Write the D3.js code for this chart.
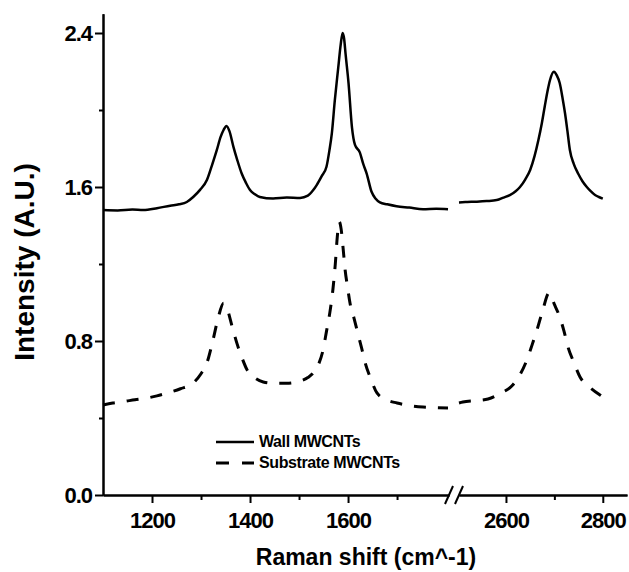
<!DOCTYPE html>
<html>
<head>
<meta charset="utf-8">
<script src="https://cdn.jsdelivr.net/npm/d3@7"></script>
<style>
	body { margin: 0; background: #fff; }
	svg { font-family: "Liberation Sans", Arial, sans-serif; font-weight: bold; }
	.axis path, .axis line { stroke: #000; stroke-width: 2; }
	.axis text { font-size: 22px; letter-spacing: -1px; fill: #000; }
	.line { fill: none; stroke: #000; }
</style>
</head>
<body>
<div id="chartContainer"></div>
<script>
//data (x = Raman shift, y = intensity)
var wallShiftLow = [1100,1130,1160,1182,1210,1237,1255,1271,1284,1298,1312,1322,1332,1340,1346,1352,1358,1366,1374,1383,1392,1400,1410,1420,1447,1475,1502,1518,1529,1536,1546,1556,1562,1567,1573,1580,1585,1589,1592,1595,1601,1608,1614,1624,1631,1638,1648,1656,1665,1680,1699,1725,1753,1780,1804];
var wallIntLow = [1.48,1.478,1.483,1.481,1.49,1.503,1.51,1.522,1.548,1.585,1.636,1.71,1.79,1.86,1.896,1.917,1.89,1.81,1.74,1.67,1.62,1.584,1.562,1.548,1.54,1.545,1.543,1.555,1.584,1.61,1.655,1.705,1.79,1.88,2.05,2.22,2.34,2.40,2.37,2.29,2.14,1.91,1.82,1.78,1.72,1.67,1.575,1.54,1.52,1.51,1.50,1.493,1.485,1.487,1.485];
var wallShiftHigh = [2503,2520,2540,2560,2581,2595,2608,2620,2629,2640,2650,2659,2667,2674,2680,2686,2691,2699,2705,2711,2717,2722,2727,2732,2740,2749,2758,2767,2775,2784,2792,2800];
var wallIntHigh = [1.52,1.522,1.524,1.527,1.532,1.545,1.558,1.578,1.60,1.64,1.688,1.76,1.844,1.93,2.017,2.10,2.156,2.199,2.18,2.14,2.06,1.983,1.89,1.792,1.72,1.67,1.63,1.60,1.578,1.558,1.548,1.54];
var subShiftLow = [1100,1120,1141,1165,1190,1210,1231,1258,1284,1300,1312,1324,1335,1346,1353,1363,1373,1384,1394,1410,1427,1450,1475,1500,1518,1529,1540,1549,1556,1563,1569,1574,1578,1582,1586,1590,1594,1599,1604,1612,1620,1628,1635,1647,1659,1678,1700,1725,1753,1780,1804];
var subIntLow = [0.468,0.478,0.485,0.495,0.504,0.515,0.53,0.552,0.582,0.63,0.686,0.80,0.92,0.996,0.97,0.88,0.79,0.71,0.65,0.608,0.587,0.58,0.58,0.59,0.61,0.634,0.68,0.753,0.85,0.95,1.065,1.20,1.34,1.42,1.38,1.28,1.17,1.08,0.997,0.92,0.84,0.76,0.686,0.60,0.53,0.495,0.478,0.465,0.457,0.454,0.452];
var subShiftHigh = [2503,2511,2537,2563,2590,2614,2630,2643,2654,2664,2676,2689,2700,2711,2720,2728,2740,2753,2773,2794,2800];
var subIntHigh = [0.478,0.483,0.49,0.499,0.53,0.571,0.63,0.70,0.78,0.857,0.96,1.05,0.99,0.925,0.85,0.77,0.69,0.613,0.56,0.52,0.51];

var yTicks = [0.0, 0.8, 1.6, 2.4], yMinor = [0.4, 1.2, 2.0];
var xTicksLow = [1200, 1400, 1600], xMinorLow = [1300, 1500, 1700];
var xTicksHigh = [2600, 2800], xMinorHigh = [2700];
var seriesNames = ["Wall MWCNTs", "Substrate MWCNTs"];

var W = 629, H = 572;
var svg = d3.select("#chartContainer").append("svg")
	.attr("width", W).attr("height", H);

var xLow = d3.scaleLinear().domain([1100, 1806]).range([103, 449]);
var xHigh = d3.scaleLinear().domain([2503, 2850]).range([459, 627]);
var y = d3.scaleLinear().domain([0, 2.5]).range([495, 13.75]);
var y0 = y(0);

function zip(a, b) { return a.map(function(d, i) { return [d, b[i]]; }); }

function drawLine(xs, ys, xScale, cls) {
	var line = d3.line()
		.x(function(d) { return xScale(d[0]); })
		.y(function(d) { return y(d[1]); })
		.curve(d3.curveMonotoneX);
	return svg.append("path")
		.datum(zip(xs, ys))
		.attr("class", "line " + cls)
		.attr("d", line);
}

drawLine(wallShiftLow, wallIntLow, xLow, "wall").attr("stroke-width", 2.5);
drawLine(wallShiftHigh, wallIntHigh, xHigh, "wall").attr("stroke-width", 2.5);
drawLine(subShiftLow, subIntLow, xLow, "sub").attr("stroke-width", 3).attr("stroke-dasharray", "12,12");
drawLine(subShiftHigh, subIntHigh, xHigh, "sub").attr("stroke-width", 3).attr("stroke-dasharray", "12,12");

// y axis
svg.append("g").attr("class", "axis")
	.attr("transform", "translate(" + xLow.range()[0] + ",0)")
	.call(d3.axisLeft(y).tickValues(yTicks).tickSize(8).tickSizeOuter(0).tickPadding(3)
		.tickFormat(d3.format(".1f")));
svg.append("g").attr("class", "axis")
	.attr("transform", "translate(" + xLow.range()[0] + ",0)")
	.call(d3.axisLeft(y).tickValues(yMinor).tickSize(4).tickSizeOuter(0).tickFormat(""));

// broken x axis
function xAxis(scale, major, minor) {
	svg.append("g").attr("class", "axis")
		.attr("transform", "translate(0," + y0 + ")")
		.call(d3.axisBottom(scale).tickValues(major).tickSize(8).tickSizeOuter(0).tickPadding(9)
			.tickFormat(d3.format("d")));
	svg.append("g").attr("class", "axis")
		.attr("transform", "translate(0," + y0 + ")")
		.call(d3.axisBottom(scale).tickValues(minor).tickSize(5).tickSizeOuter(0).tickFormat(""));
}
xAxis(xLow, xTicksLow, xMinorLow);
xAxis(xHigh, xTicksHigh, xMinorHigh);

// break marks
[xLow.range()[1], xHigh.range()[0]].forEach(function(bx) {
	svg.append("line")
		.attr("x1", bx - 4).attr("y1", y0 + 9)
		.attr("x2", bx + 4).attr("y2", y0 - 9)
		.attr("stroke", "#000").attr("stroke-width", 2);
});

// axis titles
svg.append("text")
	.attr("x", 366).attr("y", 565)
	.attr("text-anchor", "middle")
	.style("font-size", "23px")
	.text("Raman shift (cm^-1)");

svg.append("text")
	.attr("transform", "translate(34,262) rotate(-90)")
	.attr("text-anchor", "middle")
	.style("font-size", "28px")
	.text("Intensity (A.U.)");

// legend
var legend = svg.append("g").attr("transform", "translate(216,442)");
seriesNames.forEach(function(name, i) {
	var row = legend.append("g").attr("transform", "translate(0," + (i * 21) + ")");
	row.append("line")
		.attr("x1", 0).attr("x2", 38)
		.attr("stroke", "#000")
		.attr("stroke-width", i ? 3 : 2.5)
		.attr("stroke-dasharray", i ? "13,13" : null);
	row.append("text")
		.attr("x", 43).attr("y", 5)
		.style("font-size", "16px")
		.style("letter-spacing", "-0.4px")
		.text(name);
});
</script>
</body>
</html>
